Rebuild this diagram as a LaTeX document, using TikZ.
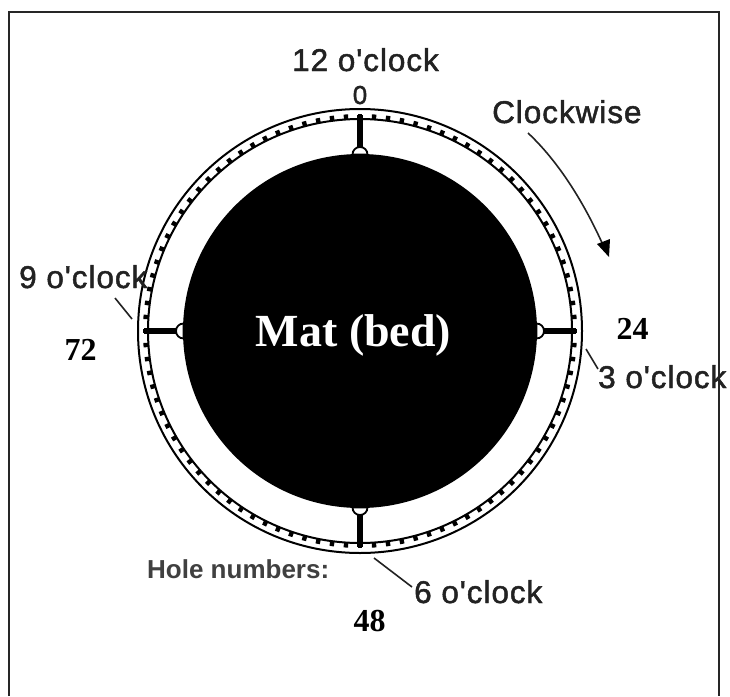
\documentclass[tikz,border=0pt]{standalone}
\usepackage{fontspec}
\setmainfont{Liberation Sans}
\newfontfamily\serifbold{Liberation Serif}[BoldFont={Liberation Serif Bold}]
\newfontfamily\spaced{Liberation Sans}[LetterSpace=3,FakeBold=1.5]
\definecolor{inkgrey}{HTML}{222222}
\tikzset{
  clocklabel/.style={anchor=base west,inner sep=0pt,text=inkgrey,font=\spaced\fontsize{31.5}{34}\selectfont},
  holelabel/.style={anchor=base,inner sep=0pt,text=black,font=\serifbold\bfseries\fontsize{32}{36}\selectfont},
  ringline/.style={draw=black,line width=2pt},
  leader/.style={draw=inkgrey,line width=1.6pt},
  spoke/.style={draw=black,line width=6pt},
}
\begin{document}
\begin{tikzpicture}[x=1pt,y=-1pt]
\useasboundingbox (0,0) rectangle (730,696);
\fill[white] (0,0) rectangle (730,696);
% frame
\draw[draw=black!85,line width=2pt] (9,696) -- (9,12) -- (719,12) -- (719,696);
% centre
\coordinate (c) at (360,331);
% mat
\node[circle,fill=black,draw=none,minimum size=354pt,inner sep=0pt] (mat) at (c) {};
\node[anchor=base,inner sep=0pt,text=white,font=\serifbold\bfseries\fontsize{46}{50}\selectfont] (matlabel) at (353.5,346) {Mat (bed)};
% ring
\node[circle,ringline,minimum size=444pt,inner sep=0pt] (outer) at (c) {};
\node[circle,ringline,minimum size=424pt,inner sep=0pt] (inner) at (c) {};
% 96 hole marks
\foreach \a in {0,3.75,...,356.25}
  \fill[black,shift={(c)},rotate=\a] (-2.2,-212) rectangle (2.2,-217);
% spokes with bumps
\foreach \a in {0,90,180,270}{
  \begin{scope}[shift={(c)},rotate=\a]
    \draw[spoke] (0,-216) -- (0,-183);
    \filldraw[fill=white,draw=black,line width=1.8pt] (-7.5,-176.5) arc[start angle=180,end angle=360,radius=7.5] -- cycle;
  \end{scope}
}
% labels
\node[clocklabel] (n12) at (292,71) {12 o'clock};
\node[anchor=base,inner sep=0pt,text=inkgrey,font=\spaced\fontsize{26}{28}\selectfont] (zero) at (360,104) {0};
\node[clocklabel] (ncw) at (492,123) {Clockwise};
\node[clocklabel] (n9) at (19,288) {9 o'clock};
\node[clocklabel] (n3) at (598,388) {3 o'clock};
\node[clocklabel] (n6) at (414,603) {6 o'clock};
\node[anchor=base west,inner sep=0pt,text=black!75,font=\bfseries\fontsize{26}{28}\selectfont] (nholes) at (147,578) {Hole numbers:};
\node[holelabel] (h72) at (80.5,360) {72};
\node[holelabel] (h24) at (632.5,339) {24};
\node[holelabel] (h48) at (369.5,631) {48};
% leaders
\coordinate (l9a) at (115,298);
\coordinate (l9b) at (132,319);
\coordinate (l3a) at (586,349);
\coordinate (l3b) at (598,369);
\coordinate (l6a) at (374,558);
\coordinate (l6b) at (412,587);
\draw[leader] (l9a) -- (l9b);
\draw[leader] (l3a) -- (l3b);
\draw[leader] (l6a) -- (l6b);
% clockwise arrow
\coordinate (cwa) at (528,133);
\coordinate (cwb) at (609,257);
\draw[draw=inkgrey,line width=1.6pt] (cwa) .. controls (560,163) and (585,205) .. (603,245);
\fill[black] (cwb) -- (597,244) -- (610,239) -- cycle;
\end{tikzpicture}
\end{document}
